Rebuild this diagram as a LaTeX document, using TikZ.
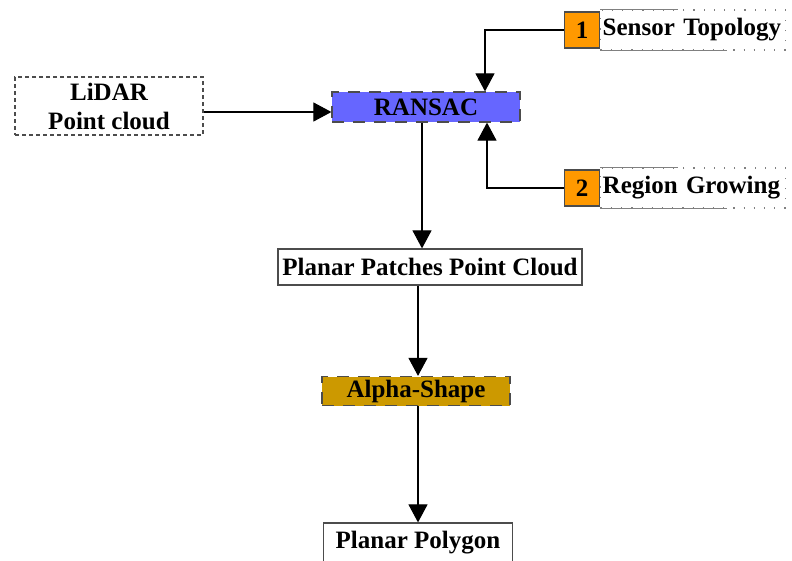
\documentclass[tikz,border=0pt]{standalone}
\usepackage{fontspec}
\setmainfont{Liberation Serif}
\usepackage{xcolor}
\usepackage{tikz}
\usetikzlibrary{arrows.meta}

\definecolor{ransacblue}{HTML}{6666FF}
\definecolor{alphagold}{HTML}{CC9900}
\definecolor{numorange}{HTML}{FF9900}

\tikzset{
  box/.style={draw, line width=1.2pt, inner sep=3pt, font=\fontsize{25}{29}\selectfont\bfseries},
  numbox/.style={box, fill=numorange, draw=black!70, minimum width=35pt, minimum height=36pt, inner sep=0pt},
  optbox/.style={box, anchor=west, draw=gray, dash pattern=on 1.2pt off 9pt, text width=181pt, align=left, inner xsep=2pt, inner ysep=4pt, minimum height=40pt},
  flow/.style={-{Triangle[length=18pt,width=19pt]}, line width=1.1pt}
}

\begin{document}
\begin{tikzpicture}[x=1pt,y=-1pt]
\useasboundingbox (0,0) rectangle (792,560);

% inputs
\node[box, draw=gray!60!black, dash pattern=on 4pt off 3pt, minimum width=188pt, minimum height=58pt, align=center] (lidar) at (109,106) {LiDAR\\Point cloud};
\node[box, fill=ransacblue, draw=black!70, dash pattern=on 12pt off 9pt, minimum width=188pt, minimum height=30pt] (ransac) at (426,107) {RANSAC};

% options
\node[numbox] (num1) at (582,30) {1};
\node[optbox] (sensor) at (num1.east) {\mbox{Sensor Topology}};
\draw[gray, line width=1.2pt] (sensor.north west) -- ++(78,0);
\draw[gray, line width=1.2pt] (sensor.south west) -- ++(127,0);
\node[numbox] (num2) at (582,188) {2};
\node[optbox] (region) at (num2.east) {\mbox{Region Growing}};
\draw[gray, line width=1.2pt] (region.north west) -- ++(78,0);
\draw[gray, line width=1.2pt] (region.south west) -- ++(127,0);

% outputs
\node[box, draw=gray!60!black, minimum width=304pt, minimum height=36pt] (patches) at (430,267) {Planar Patches Point Cloud};
\node[box, fill=alphagold, draw=black!70, dash pattern=on 12pt off 9pt, minimum width=188pt, minimum height=29pt] (alpha) at (416,391) {Alpha-Shape};
\node[box, draw=gray!60!black, minimum width=189pt, minimum height=40pt] (polygon) at (418,543) {Planar Polygon};

% connectors
\draw[flow] ([yshift=-6pt]lidar.east) -- ([yshift=-6pt]lidar.east -| ransac.west);
\draw[flow] (num1.west) -| ([xshift=59pt]ransac.north);
\draw[flow] (num2.west) -| ([xshift=61pt]ransac.south);
\draw[flow] ([xshift=-4pt]ransac.south) -- ([xshift=-4pt]ransac.south |- patches.north);
\draw[flow] ([xshift=-12pt]patches.south) -- ([xshift=-12pt]patches.south |- alpha.north);
\draw[flow] ([xshift=2pt]alpha.south) -- ([xshift=2pt]alpha.south |- polygon.north);
\end{tikzpicture}
\end{document}
